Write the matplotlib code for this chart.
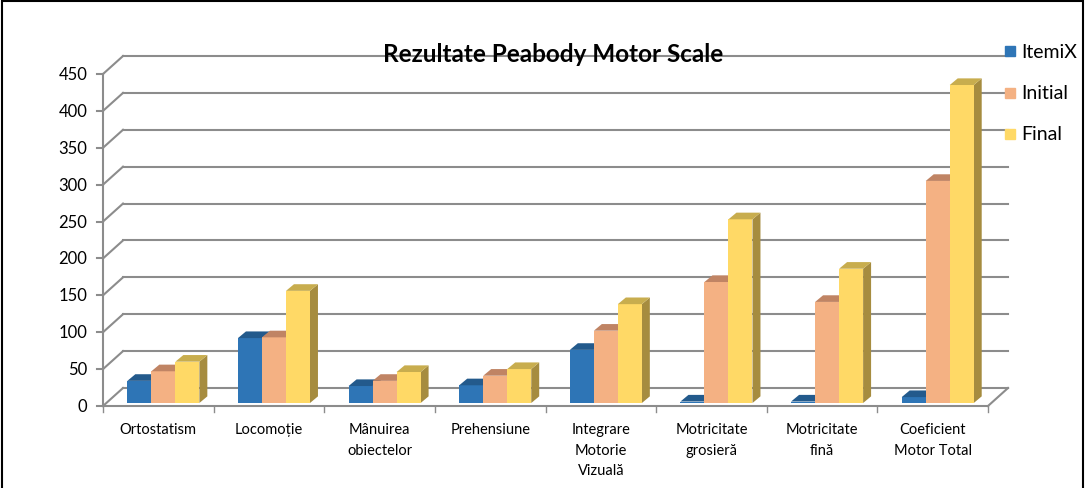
import matplotlib
matplotlib.use("Agg")
import matplotlib.pyplot as plt
from matplotlib.patches import Rectangle

plt.rcParams['font.family'] = ['Lato', 'DejaVu Sans']

categories = ['Ortostatism', 'Locomoție', 'Mânuirea\nobiectelor', 'Prehensiune',
              'Integrare\nMotorie\nVizuală', 'Motricitate\ngrosieră',
              'Motricitate\nfină', 'Coeficient\nMotor Total']
series_names = ['ItemiX', 'Initial', 'Final']
itemix = [30, 88, 23, 24, 72, 2, 2, 8]
initial = [43, 89, 30, 37, 98, 164, 137, 301]
final = [56, 152, 42, 46, 134, 249, 182, 431]
yticks = [0, 50, 100, 150, 200, 250, 300, 350, 400, 450]

front_cols = ['#2E75B6', '#F4B183', '#FFD966']
top_cols = ['#235A8C', '#C08464', '#C8AD4E']
side_cols = ['#1D4B75', '#A8704F', '#A68C3F']

W, H = 1086, 489
fig = plt.figure(figsize=(W / 100, H / 100), dpi=100)
ax = fig.add_axes([103 / W, (H - 407) / H, 885 / W, 332 / H])
n = len(categories)
ax.set_xlim(0, n)
ax.set_ylim(0, 450)
ax.axis('off')

DX, DY = 0.181, 24.4       # wall depth
d = 1 / 6                  # bar depth position
bdx, bdy = 0.072, 9.0      # bar depth
bw = 0.217
off0 = 0.19
grid_c = '#8C8C8C'
glw = 1.5

# back gridlines and left diagonal
for v in yticks:
    ax.plot([DX, n + DX], [v + DY, v + DY], color=grid_c, lw=glw, clip_on=False, zorder=1)
    ax.plot([0, DX], [v, v + DY], color=grid_c, lw=glw, clip_on=False, zorder=1)
    ax.plot([-0.05, 0], [v, v], color=grid_c, lw=glw, clip_on=False, zorder=1)
    ax.text(-0.14, v, str(v), ha='right', va='center', fontsize=12, clip_on=False)
ax.plot([0, 0], [0, 450], color=grid_c, lw=glw, clip_on=False, zorder=1)
# floor
ax.plot([0, n], [0, 0], color=grid_c, lw=glw, clip_on=False, zorder=1)
ax.plot([n, n + DX], [0, DY], color=grid_c, lw=glw, clip_on=False, zorder=1)
for i in range(n + 1):
    ax.plot([i, i], [0, -8], color=grid_c, lw=1.0, clip_on=False, zorder=1)
for i, c in enumerate(categories):
    ax.text(i + 0.5, -22, c, ha='center', va='top', fontsize=10.5, linespacing=1.6, clip_on=False)

# bars
data = [itemix, initial, final]
x0 = DX * d
b0 = DY * d
z = 3
for i in range(n):
    for j, vals in enumerate(data):
        v = vals[i]
        xl = i + off0 + j * bw + x0
        xr = xl + bw
        top = b0 + v
        ax.fill([xr, xr + bdx, xr + bdx, xr], [b0, b0 + bdy, top + bdy, top],
                color=side_cols[j], lw=0, zorder=z, clip_on=False)
        ax.bar(xl, v, width=bw, bottom=b0, align='edge', color=front_cols[j], lw=0,
               zorder=z + 1, clip_on=False)
        ax.fill([xl, xr, xr + bdx, xl + bdx], [top, top, top + bdy, top + bdy],
                color=top_cols[j], lw=0, zorder=z + 1, clip_on=False)
        z += 2

fig.text(553 / W, 1 - 54 / H, 'Rezultate Peabody Motor Scale', ha='center', va='center',
         fontsize=17.5, fontweight='bold', zorder=25)

# legend
leg_y = [52, 94, 135]
for j, name in enumerate(series_names):
    fig.patches.append(Rectangle(((1005) / W, 1 - (leg_y[j] + 5) / H), 10 / W, 10 / H,
                                 transform=fig.transFigure, color=front_cols[j], zorder=20))
    fig.text(1021 / W, 1 - leg_y[j] / H, name, ha='left', va='center', fontsize=14, zorder=21)

fig.patches.append(Rectangle((2 / W, -0.1), (W - 5) / W, 1.1 - 2 / H, transform=fig.transFigure,
                             fill=False, edgecolor='black', lw=1.5, zorder=30))

fig.savefig('out.png', dpi=100)
